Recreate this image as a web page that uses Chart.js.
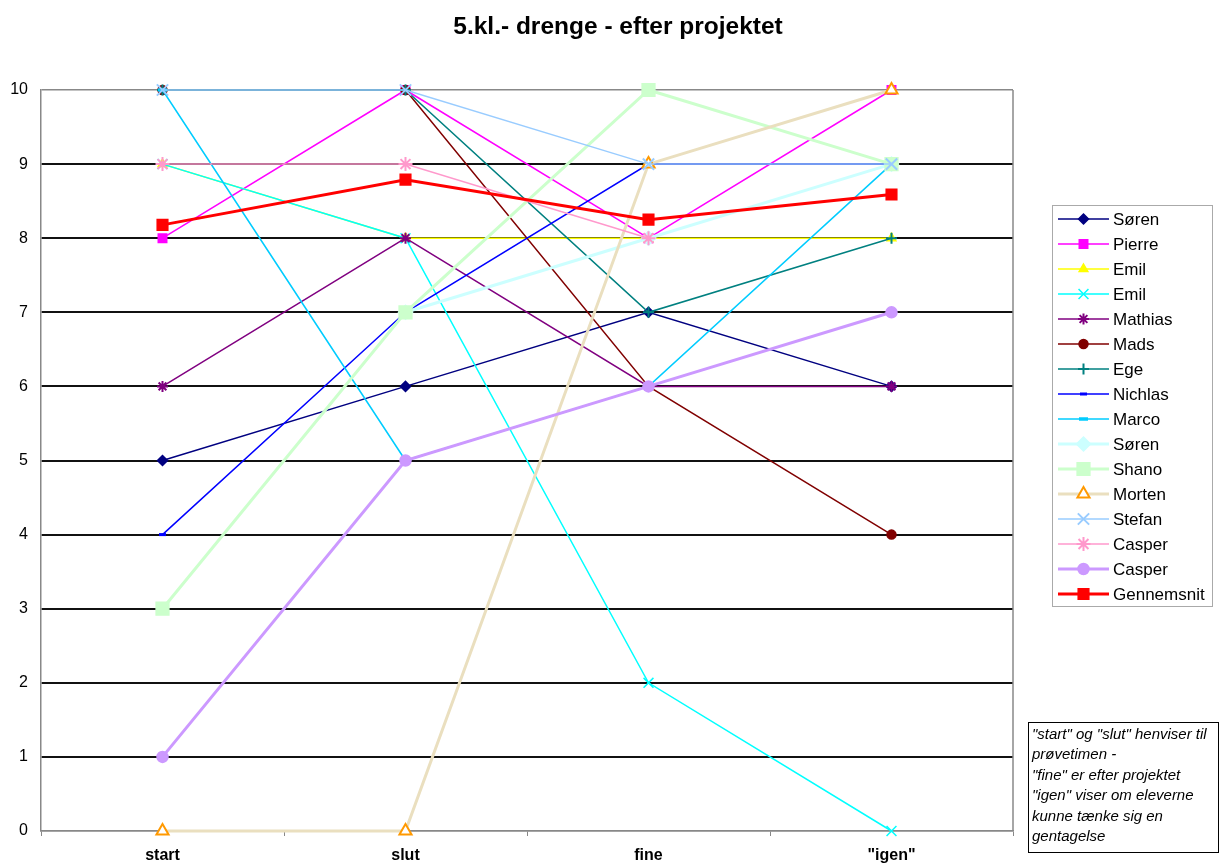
<!DOCTYPE html>
<html lang="da">
<head>
<meta charset="utf-8">
<title>5.kl.- drenge - efter projektet</title>
<script src="https://cdn.jsdelivr.net/npm/chart.js@4.4.0/dist/chart.umd.min.js"></script>
<style>
  body { margin: 0; background: #fff; }
  #wrap { position: relative; width: 1219px; height: 864px; }
  #note {
    position: absolute;
    left: 1028px;
    top: 722px;
    width: 186px;
    height: 128px;
    border: 1.5px solid #000;
    padding: 1px 0 0 3px;
    font: italic 15px "Liberation Sans", Arial, sans-serif;
    line-height: 20.4px;
    color: #000;
    white-space: nowrap;
  }
</style>
</head>
<body>
<div id="wrap">
  <canvas id="chart"></canvas>
  <div id="note">"start" og "slut" henviser til<br>prøvetimen -<br>"fine" er efter projektet<br>"igen" viser om eleverne<br>kunne tænke sig en<br>gentagelse</div>
</div>
<script>
const categories = ["start", "slut", "fine", "\"igen\""];

const soren = [5, 6, 7, 6];
const pierre = [8, 10, 8, 10];
const emilA = [9, 8, 8, 8];
const emilB = [9, 8, 2, 0];
const mathias = [6, 8, 6, 6];
const mads = [10, 10, 6, 4];
const ege = [10, 10, 7, 8];
const nichlas = [4, 7, 9, 9];
const marco = [10, 5, 6, 9];
const soren2 = [null, 7, 8, 9];
const shano = [3, 7, 10, 9];
const morten = [0, 0, 9, 10];
const stefan = [10, 10, 9, 9];
const casper = [9, 9, 8, null];
const casper2 = [1, 5, 6, 7];
const gennemsnit = [8.18, 8.79, 8.25, 8.59];

const yMin = 0;
const yMax = 10;

// one line series, Excel style
function series(label, data, color, pointStyle, radius, width, extra) {
  return Object.assign({
    label: label,
    data: data,
    borderColor: color,
    borderWidth: width,
    pointStyle: pointStyle,
    pointRadius: radius,
    pointHoverRadius: radius,
    pointBackgroundColor: color,
    pointBorderColor: color,
    pointBorderWidth: 1.5,
    tension: 0,
    fill: false,
    clip: false,
  }, extra || {});
}

const datasets = [
  series("Søren", soren, "#000080", "rectRot", 5, 1.5),
  series("Pierre", pierre, "#FF00FF", "rect", 6, 1.5),
  series("Emil", emilA, "#FFFF00", "triangle", 5, 1.5),
  series("Emil", emilB, "#00FFFF", "crossRot", 7, 1.5),
  series("Mathias", mathias, "#800080", "star", 5.5, 1.5, { pointBorderWidth: 2 }),
  series("Mads", mads, "#800000", "circle", 4.5, 1.5),
  series("Ege", ege, "#008080", "cross", 5.5, 1.5, { pointBorderWidth: 2 }),
  series("Nichlas", nichlas, "#0000FF", "line", 3.5, 1.5, { pointBorderWidth: 3 }),
  series("Marco", marco, "#00CCFF", "line", 4.5, 1.5, { pointBorderWidth: 3.5 }),
  series("Søren", soren2, "#CCFFFF", "rectRot", 7, 3),
  series("Shano", shano, "#CCFFCC", "rect", 9, 3),
  series("Morten", morten, "#EADFBF", "triangle", 7, 3, {
    pointBackgroundColor: "#FFFFFF",
    pointBorderColor: "#FF9900",
    pointBorderWidth: 2,
  }),
  series("Stefan", stefan, "#99CCFF", "crossRot", 8, 1.5, { pointBorderWidth: 2 }),
  series("Casper", casper, "#FF99CC", "star", 7, 1.5, { pointBorderWidth: 2 }),
  series("Casper", casper2, "#CC99FF", "circle", 5.5, 3),
  series("Gennemsnit", gennemsnit, "#FF0000", "rect", 7.5, 3),
];

// later series on top, like the original
datasets.forEach((ds, i) => { ds.order = datasets.length - i; });

const extras = {
  id: "extras",
  beforeDatasetsDraw(chart) {
    const { ctx, chartArea: a } = chart;
    ctx.save();
    ctx.strokeStyle = "#888";
    ctx.lineWidth = 1.5;
    ctx.beginPath();
    ctx.moveTo(a.right, a.top);
    ctx.lineTo(a.right, a.bottom);
    ctx.stroke();
    ctx.restore();
  },
  afterDraw(chart) {
    const ctx = chart.ctx;
    ctx.save();

    // title
    ctx.fillStyle = "#000";
    ctx.font = "bold 24.5px 'Liberation Sans', Arial, sans-serif";
    ctx.textAlign = "center";
    ctx.textBaseline = "middle";
    ctx.fillText("5.kl.- drenge - efter projektet", 618, 27);

    // legend box
    ctx.strokeStyle = "#aaa";
    ctx.lineWidth = 1;
    ctx.strokeRect(1052.5, 205.5, 160, 401);

    ctx.font = "17px 'Liberation Sans', Arial, sans-serif";
    ctx.textAlign = "left";
    chart.data.datasets.forEach((ds, i) => {
      const y = 219 + i * 25;
      ctx.strokeStyle = ds.borderColor;
      ctx.lineWidth = ds.borderWidth;
      ctx.beginPath();
      ctx.moveTo(1058, y);
      ctx.lineTo(1109, y);
      ctx.stroke();

      ctx.fillStyle = ds.pointBackgroundColor;
      ctx.strokeStyle = ds.pointBorderColor;
      ctx.lineWidth = ds.pointBorderWidth;
      Chart.helpers.drawPoint(ctx, {
        pointStyle: ds.pointStyle,
        radius: ds.pointRadius,
        rotation: 0,
        borderWidth: ds.pointBorderWidth,
      }, 1083.5, y);

      ctx.fillStyle = "#000";
      ctx.fillText(ds.label, 1113, y + 1);
    });
    ctx.restore();
  },
};

new Chart(document.getElementById("chart"), {
  type: "line",
  data: {
    labels: categories,
    datasets: datasets,
  },
  options: {
    responsive: true,
    maintainAspectRatio: false,
    animation: false,
    layout: {
      padding: { top: 90, right: 206, bottom: 0, left: 0 },
    },
    plugins: {
      legend: { display: false },
      title: { display: false },
      tooltip: { enabled: false },
    },
    scales: {
      x: {
        offset: true,
        grid: {
          display: true,
          drawOnChartArea: false,
          drawTicks: true,
          tickLength: 5,
          color: "#888",
          offset: true,
        },
        border: { color: "#888", width: 1.5 },
        ticks: {
          color: "#000",
          padding: 10,
          font: { family: "'Liberation Sans', Arial, sans-serif", size: 16, weight: "bold" },
        },
        afterFit(scale) { scale.height = 33; },
      },
      y: {
        min: yMin,
        max: yMax,
        ticks: {
          stepSize: 1,
          color: "#000",
          padding: 13,
          font: { family: "'Liberation Sans', Arial, sans-serif", size: 16 },
        },
        grid: {
          drawTicks: false,
          color: (c) => (c.tick.value === yMin || c.tick.value === yMax ? "#888" : "#111"),
          lineWidth: (c) => (c.tick.value === yMin || c.tick.value === yMax ? 1.5 : 2),
        },
        border: { color: "#888", width: 1.5 },
        afterFit(scale) { scale.width = 41; },
      },
    },
  },
  plugins: [extras],
});
</script>
</body>
</html>
